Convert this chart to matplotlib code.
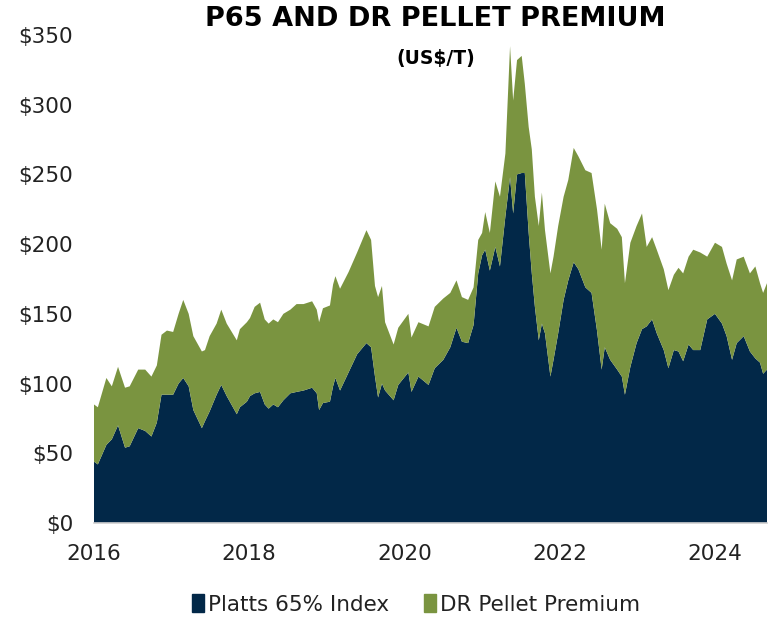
import matplotlib
matplotlib.use("Agg")
import matplotlib.pyplot as plt
from matplotlib.patches import Patch

# decimal year, Platts 65% index (US$/t), total = index + DR pellet premium
years = [2016.00, 2016.05, 2016.16, 2016.23, 2016.31, 2016.40, 2016.46, 2016.57,
         2016.66, 2016.74, 2016.81, 2016.87, 2016.94, 2017.02, 2017.09, 2017.15,
         2017.22, 2017.28, 2017.39, 2017.43, 2017.49, 2017.58, 2017.64, 2017.71,
         2017.84, 2017.88, 2017.97, 2018.01, 2018.07, 2018.14, 2018.20, 2018.25,
         2018.31, 2018.37, 2018.44, 2018.53, 2018.61, 2018.70, 2018.81, 2018.87,
         2018.90, 2018.95, 2019.04, 2019.08, 2019.11, 2019.17, 2019.28, 2019.39,
         2019.51, 2019.57, 2019.62, 2019.66, 2019.71, 2019.75, 2019.86, 2019.92,
         2020.05, 2020.09, 2020.18, 2020.31, 2020.39, 2020.50, 2020.59, 2020.67,
         2020.74, 2020.82, 2020.89, 2020.95, 2021.00, 2021.04, 2021.10, 2021.17,
         2021.23, 2021.30, 2021.36, 2021.40, 2021.45, 2021.51, 2021.55, 2021.60,
         2021.64, 2021.68, 2021.73, 2021.77, 2021.81, 2021.88, 2021.92, 2021.98,
         2022.05, 2022.11, 2022.18, 2022.24, 2022.33, 2022.41, 2022.48, 2022.54,
         2022.58, 2022.65, 2022.74, 2022.80, 2022.84, 2022.91, 2022.99, 2023.06,
         2023.12, 2023.19, 2023.25, 2023.34, 2023.40, 2023.47, 2023.53, 2023.59,
         2023.66, 2023.72, 2023.81, 2023.90, 2024.00, 2024.09, 2024.15, 2024.22,
         2024.28, 2024.37, 2024.45, 2024.52, 2024.58, 2024.62, 2024.67]

platts = [44, 42, 56, 60, 70, 54, 55, 68,
          66, 62, 72, 92, 92, 92, 100, 104,
          98, 81, 68, 73, 80, 92, 99, 91,
          78, 83, 87, 91, 93, 94, 85, 82,
          85, 83, 88, 93, 94, 95, 97, 93,
          81, 86, 87, 98, 104, 95, 108, 121,
          129, 126, 105, 90, 100, 95, 88, 99,
          108, 94, 105, 99, 111, 117, 126, 140,
          130, 129, 142, 179, 192, 196, 181, 198,
          184, 220, 248, 222, 250, 251, 251, 208,
          179, 155, 131, 143, 136, 105, 117, 136,
          160, 174, 187, 182, 169, 165, 138, 110,
          126, 117, 110, 105, 92, 112, 129, 139,
          141, 146, 136, 124, 111, 124, 123, 116,
          128, 124, 124, 146, 150, 143, 134, 117,
          129, 134, 123, 118, 115, 107, 110]

total = [85, 83, 104, 98, 112, 97, 98, 110,
         110, 105, 113, 135, 138, 137, 150, 160,
         150, 134, 123, 124, 134, 143, 153, 143,
         131, 139, 144, 147, 155, 158, 146, 143,
         146, 144, 150, 153, 157, 157, 159, 153,
         144, 154, 156, 171, 177, 168, 180, 194,
         210, 203, 170, 162, 170, 144, 128, 140,
         150, 133, 144, 141, 155, 161, 165, 174,
         162, 160, 169, 203, 208, 223, 208, 245,
         234, 265, 342, 303, 332, 335, 315, 284,
         268, 234, 213, 237, 210, 179, 191, 213,
         234, 246, 269, 263, 253, 251, 225, 196,
         229, 215, 211, 205, 172, 201, 213, 222,
         198, 205, 196, 182, 167, 178, 183, 179,
         191, 196, 194, 191, 201, 198, 186, 174,
         189, 191, 179, 184, 172, 165, 172]

premium = [t - p for t, p in zip(total, platts)]

series_names = ["Platts 65% Index", "DR Pellet Premium"]
year_ticks = [2016, 2018, 2020, 2022, 2024]
y_ticks = [0, 50, 100, 150, 200, 250, 300, 350]

navy = "#022848"
green = "#7a9440"
txt = "#222222"
plt.rcParams["font.family"] = ["DejaVu Sans"]

fig = plt.figure(figsize=(7.69, 6.17), dpi=100)
ax = fig.add_axes([0.1222, 0.1524, 0.8752, 0.7909])

ax.stackplot(years, platts, premium, colors=[navy, green], linewidth=0)

ax.set_xlim(2016.0, 2024.67)
ax.set_ylim(0, 350)
ax.set_xticks(year_ticks)
ax.set_xticklabels([str(y) for y in year_ticks])
ax.set_yticks(y_ticks)
ax.set_yticklabels(["$" + str(v) for v in y_ticks])
ax.tick_params(axis="both", length=0, labelsize=15.5, colors=txt)
ax.tick_params(axis="y", pad=15)
ax.tick_params(axis="x", pad=15)

for s in ["top", "right", "left"]:
    ax.spines[s].set_visible(False)
ax.spines["bottom"].set_color("#d0d0d0")
ax.spines["bottom"].set_linewidth(1.2)

fig.text(0.566, 0.970, "P65 AND DR PELLET PREMIUM", ha="center", va="center",
         fontsize=19.5, fontweight="bold", color="black")
fig.text(0.566, 0.905, "(US$/T)", ha="center", va="center",
         fontsize=13.5, fontweight="bold", color="black")

handles = [Patch(color=navy), Patch(color=green)]
fig.legend(handles, series_names, loc="center", bbox_to_anchor=(0.541, 0.02),
           ncol=2, frameon=False, fontsize=15.5, handlelength=0.55, handleheight=0.9,
           handletextpad=0.2, columnspacing=1.6, labelcolor=txt)

fig.savefig("out.png", dpi=100)
